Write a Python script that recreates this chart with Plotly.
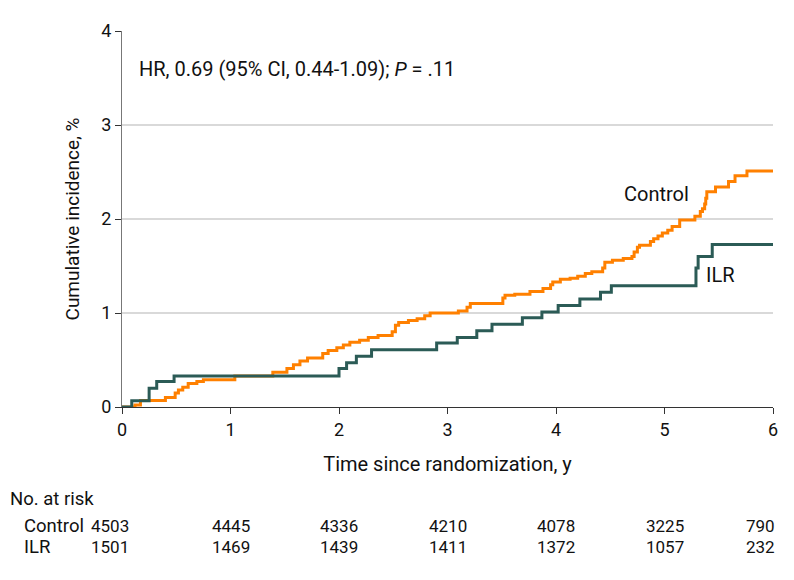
import plotly.graph_objects as go

# Kaplan-Meier style cumulative incidence (%) step data
ilr_t = [0, 0.09, 0.25, 0.32, 0.48, 2.00, 2.07, 2.16, 2.30, 2.90, 3.09, 3.27, 3.41, 3.69, 3.87,
         4.02, 4.22, 4.41, 4.51, 5.29, 5.31, 5.44, 6.0]
ilr_v = [0, 0.067, 0.20, 0.27, 0.33, 0.41, 0.47, 0.54, 0.61, 0.68, 0.74, 0.81, 0.88, 0.95, 1.01,
         1.08, 1.15, 1.22, 1.29, 1.48, 1.60, 1.73, 1.73]

ctl_t = [0, 0.12, 0.17, 0.40, 0.49, 0.52, 0.56, 0.61, 0.69, 0.75, 1.04, 1.39, 1.52, 1.58, 1.64,
         1.71, 1.85, 1.90, 1.98, 2.04, 2.10, 2.19, 2.27, 2.36, 2.49, 2.52, 2.55, 2.64, 2.72,
         2.79, 2.84, 3.10, 3.18, 3.21, 3.51, 3.53, 3.62, 3.76, 3.88, 3.95, 3.97, 4.04, 4.13,
         4.20, 4.27, 4.33, 4.43, 4.45, 4.52, 4.62, 4.70, 4.72, 4.75, 4.77, 4.87, 4.90, 4.94,
         4.98, 5.03, 5.07, 5.14, 5.28, 5.33, 5.35, 5.37, 5.38, 5.39, 5.47, 5.59, 5.65, 5.76, 6.0]
ctl_v = [0, 0.02, 0.07, 0.10, 0.15, 0.18, 0.21, 0.25, 0.27, 0.29, 0.33, 0.37, 0.41, 0.45, 0.49,
         0.52, 0.57, 0.60, 0.63, 0.66, 0.69, 0.71, 0.74, 0.76, 0.80, 0.87, 0.90, 0.92, 0.94,
         0.97, 1.00, 1.02, 1.06, 1.10, 1.16, 1.19, 1.20, 1.23, 1.26, 1.30, 1.33, 1.36, 1.37,
         1.39, 1.42, 1.44, 1.48, 1.54, 1.56, 1.58, 1.60, 1.65, 1.70, 1.72, 1.76, 1.79, 1.82,
         1.85, 1.88, 1.92, 1.99, 2.03, 2.08, 2.11, 2.16, 2.22, 2.29, 2.34, 2.40, 2.46, 2.51, 2.51]

risk_times = [0, 1, 2, 3, 4, 5, 6]
risk_control = [4503, 4445, 4336, 4210, 4078, 3225, 790]
risk_ilr = [1501, 1469, 1439, 1411, 1372, 1057, 232]

ORANGE = "#FF8000"
GREEN = "#2B5B56"
FONT = "Roboto"
TXT = "#111"

# page body has an 8px margin; compensate so the plot area lands where the reference has it
L, T = 114, 20
W, H = 786, 572
R, B = 21, 173
PLOT_H = H - T - B


def ypx(py):
    # screen y pixel -> paper coordinate
    return ((T + 8 + PLOT_H) - py) / PLOT_H


fig = go.Figure()
fig.add_trace(go.Scatter(x=ctl_t, y=ctl_v, mode="lines", line=dict(shape="hv", color=ORANGE, width=3),
                         name="Control", showlegend=False))
fig.add_trace(go.Scatter(x=ilr_t, y=ilr_v, mode="lines", line=dict(shape="hv", color=GREEN, width=3),
                         name="ILR", showlegend=False))

ann = []
ann.append(dict(x=0.14, y=3.6, xref="x", yref="y", text="HR, 0.69 (95% CI, 0.44-1.09); <i>P</i> = .11",
                showarrow=False, xanchor="left", yanchor="middle", font=dict(size=20, color=TXT)))
ann.append(dict(x=4.61, y=2.27, xref="x", yref="y", text="Control", showarrow=False,
                xanchor="left", yanchor="middle", font=dict(size=20, color=TXT)))
ann.append(dict(x=5.36, y=1.40, xref="x", yref="y", text="ILR", showarrow=False,
                xanchor="left", yanchor="middle", font=dict(size=20, color=TXT)))
ann.append(dict(x=0, y=ypx(500), xref="paper", yref="paper", text="No. at risk", showarrow=False,
                xanchor="left", yanchor="middle", font=dict(size=18.5, color=TXT), xshift=-114))
for label, vals, ypos in (("Control", risk_control, 527), ("ILR", risk_ilr, 548)):
    yp = ypx(ypos)
    ann.append(dict(x=0, y=yp, xref="paper", yref="paper", text=label, showarrow=False,
                    xanchor="left", yanchor="middle", font=dict(size=18.5, color=TXT), xshift=-100))
    for i, (t, v) in enumerate(zip(risk_times, vals)):
        shift = -12 if i == 0 else (-13 if i == len(vals) - 1 else 0)
        ann.append(dict(x=t, y=yp, xref="x", yref="paper", text=str(v), showarrow=False,
                        xanchor="center", yanchor="middle", font=dict(size=17, color=TXT), xshift=shift))

fig.update_layout(
    width=W, height=H,
    margin=dict(l=L, r=R, t=T, b=B),
    paper_bgcolor="white", plot_bgcolor="white",
    font=dict(family=FONT, size=17, color=TXT),
    annotations=ann,
    xaxis=dict(range=[0, 6], tickvals=[0, 1, 2, 3, 4, 5, 6], showgrid=False, zeroline=False,
               showline=True, linecolor="#333", linewidth=1, ticks="outside", ticklen=6,
               tickcolor="#333", tickfont=dict(size=18), title=dict(text="Time since randomization, y",
               font=dict(size=20), standoff=18)),
    yaxis=dict(range=[0, 4], tickvals=[0, 1, 2, 3, 4], showgrid=True, gridcolor="#d9d9d9",
               gridwidth=1.5, zeroline=False, showline=True, linecolor="#777", linewidth=1,
               ticks="outside", ticklen=6, tickcolor="#333", tickfont=dict(size=18),
               title=dict(text="Cumulative incidence, %", font=dict(size=19), standoff=16)),
)

fig.write_html("out.html")
